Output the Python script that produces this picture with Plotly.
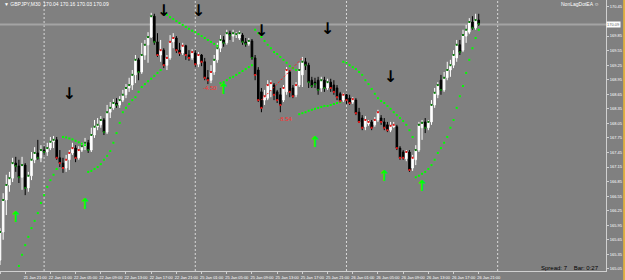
import plotly.graph_objects as go

# ---------------- data ----------------
opens = [165.23,165.81,166.47,166.78,166.92,167.23,167.17,166.94,167.19,166.72,
         166.97,167.30,167.44,167.34,167.50,167.46,167.54,167.67,167.71,167.34,
         167.23,167.13,167.30,167.44,167.54,167.34,167.50,167.58,167.65,167.50,
         167.81,167.98,168.02,168.12,167.87,168.28,168.37,168.47,168.43,168.53,
         168.64,168.78,168.84,169.05,169.36,169.11,169.46,169.67,169.83,170.26,
         169.73,169.46,169.56,169.25,169.40,169.73,169.81,169.56,169.50,169.65,
         169.46,169.40,169.50,169.27,169.46,169.32,168.99,168.94,169.11,169.36,
         169.60,169.77,169.71,169.91,169.85,169.87,169.81,169.87,169.73,169.69,
         169.75,169.40,169.15,168.70,168.53,168.57,168.74,168.84,168.70,168.64,
         168.53,168.70,169.11,168.78,168.64,168.84,169.05,169.32,169.25,168.94,
         168.90,168.94,168.78,168.94,168.78,168.90,168.84,168.78,168.66,168.53,
         168.64,168.57,168.49,168.53,168.28,168.16,167.98,168.04,168.08,168.02,
         168.12,168.16,168.08,168.02,167.91,167.98,167.98,167.54,167.46,167.32,
         167.46,167.13,167.30,167.50,167.96,168.08,167.96,168.08,168.43,168.64,
         168.94,168.74,168.99,169.15,169.25,169.40,169.67,169.56,169.85,169.93,
         170.14,170.02,170.18]
highs = [165.89,166.61,166.99,167.05,167.34,167.36,167.30,167.36,167.23,167.05,
         167.46,167.56,167.71,167.60,167.58,167.65,167.77,167.79,167.77,167.50,
         167.34,167.40,167.50,167.65,167.60,167.58,167.65,167.75,167.71,167.96,
         168.12,168.16,168.20,168.16,168.43,168.49,168.55,168.57,168.61,168.74,
         168.86,168.99,169.15,169.46,169.40,169.71,169.77,169.93,170.33,170.31,
         169.91,169.77,169.60,169.46,169.87,169.91,169.85,169.71,169.71,169.67,
         169.56,169.58,169.56,169.52,169.48,169.40,169.15,169.25,169.46,169.71,
         169.87,169.85,169.98,169.96,169.98,169.93,169.96,169.91,169.81,169.81,
         169.79,169.46,169.21,168.78,168.74,168.94,168.94,168.88,168.74,168.78,
         168.84,169.21,169.15,168.84,168.90,169.30,169.42,169.40,169.30,169.01,
         168.99,169.01,169.01,169.01,168.97,168.97,168.94,168.84,168.70,168.68,
         168.66,168.64,168.59,168.57,168.37,168.22,168.20,168.12,168.12,168.18,
         168.33,168.22,168.16,168.08,168.08,168.08,168.02,167.58,167.50,167.50,
         167.50,167.40,167.60,168.08,168.12,168.16,168.12,168.53,168.78,168.90,
         169.05,169.11,169.32,169.36,169.56,169.77,169.77,169.98,170.08,170.22,
         170.26,170.31,170.31]
lows = [165.13,165.65,166.16,166.64,166.84,167.05,166.82,166.68,166.57,166.64,
        166.88,167.23,167.30,167.25,167.40,167.38,167.50,167.54,167.30,167.15,
        167.03,167.05,167.09,167.40,167.25,167.30,167.46,167.50,167.44,167.46,
        167.75,167.91,167.96,167.81,167.83,168.16,168.33,168.37,168.37,168.49,
        168.57,168.70,168.74,168.88,168.94,169.07,169.36,169.30,169.81,169.67,
        169.42,169.32,169.19,169.15,169.36,169.60,169.50,169.44,169.46,169.36,
        169.34,169.36,169.21,169.21,169.23,168.94,168.86,168.88,169.05,169.30,
        169.52,169.63,169.67,169.77,169.73,169.81,169.77,169.67,169.63,169.65,
        169.36,168.94,168.49,168.28,168.43,168.53,168.59,168.53,168.47,168.28,
        168.49,168.64,168.59,168.57,168.59,168.80,168.80,169.15,168.78,168.78,
        168.78,168.64,168.70,168.70,168.74,168.70,168.64,168.53,168.47,168.49,
        168.45,168.43,168.45,168.22,168.06,167.91,167.91,168.00,167.91,167.98,
        168.08,168.02,167.91,167.87,167.87,167.96,167.50,167.30,167.30,167.27,
        167.05,167.07,167.19,167.46,167.71,167.85,167.91,168.02,168.37,168.57,
        168.64,168.70,168.94,169.01,169.19,169.32,169.46,169.52,169.71,169.89,
        169.98,169.98,170.06]
closes = [165.81,166.47,166.78,166.92,167.23,167.17,166.94,167.19,166.72,166.97,
          167.30,167.44,167.34,167.50,167.46,167.54,167.67,167.71,167.34,167.23,
          167.13,167.30,167.44,167.54,167.34,167.50,167.58,167.65,167.50,167.81,
          167.98,168.02,168.12,167.87,168.28,168.37,168.47,168.43,168.53,168.64,
          168.78,168.84,169.05,169.36,169.11,169.46,169.67,169.83,170.26,169.73,
          169.46,169.56,169.25,169.40,169.73,169.81,169.56,169.50,169.65,169.46,
          169.40,169.52,169.27,169.46,169.32,168.99,168.94,169.11,169.36,169.60,
          169.77,169.71,169.91,169.87,169.91,169.89,169.91,169.73,169.69,169.75,
          169.40,169.05,168.53,168.37,168.61,168.84,168.88,168.64,168.53,168.43,
          168.78,169.15,168.70,168.61,168.84,169.15,169.32,169.25,168.90,168.82,
          168.86,168.74,168.94,168.78,168.90,168.78,168.70,168.59,168.51,168.64,
          168.53,168.47,168.55,168.26,168.08,167.96,168.12,168.08,167.96,168.12,
          168.28,168.08,167.96,167.91,168.00,168.02,167.54,167.34,167.34,167.46,
          167.09,167.34,167.50,168.02,168.06,167.96,168.08,168.43,168.68,168.84,
          168.74,168.99,169.15,169.25,169.46,169.67,169.52,169.87,169.98,170.14,
          170.02,170.18,170.10]

# NonLagDot trend colour per bar (G = up, R = down)
trend = ("G" * 18 + "R" * 8 + "G" * 24 + "R" * 18 + "G" * 13 +
         "R" * 14 + "G" * 10 + "R" * 27 + "G" * 21)

# Parabolic-style green dots (bar index, price)
sar_bar = list(range(6, 19)) + list(range(20, 28)) + list(range(28, 52)) + \
          list(range(52, 70)) + list(range(70, 81)) + list(range(81, 95)) + \
          list(range(95, 109)) + list(range(109, 132)) + list(range(132, 153))
sar_val = [165.11,165.34,165.54,165.71,165.89,166.04,166.20,166.41,166.57,166.74,166.88,166.99,167.11,
           167.77,167.76,167.74,167.72,167.69,167.66,167.63,167.60,
           167.05,167.07,167.11,167.15,167.21,167.30,167.38,167.48,167.65,167.85,168.06,168.28,
           168.37,168.45,168.53,168.59,168.70,168.80,168.86,168.92,168.97,169.03,169.09,169.15,
           170.33,170.29,170.24,170.20,170.16,170.12,170.08,170.04,170.00,169.96,169.93,169.89,
           169.85,169.81,169.77,169.73,169.69,169.65,
           168.88,168.90,168.94,168.99,169.01,169.05,169.09,169.13,169.17,169.21,169.25,
           169.98,169.91,169.83,169.75,169.67,169.60,169.52,169.48,169.42,169.36,169.30,169.23,169.19,169.15,
           168.24,168.26,168.28,168.31,168.33,168.35,168.37,168.39,168.41,168.41,168.43,168.45,168.47,168.49,
           169.32,169.30,169.25,169.21,169.17,169.11,169.05,168.94,168.86,168.76,168.66,168.57,168.51,
           168.47,168.41,168.35,168.28,168.22,168.16,168.10,168.02,167.91,167.77,
           166.94,166.97,167.01,167.05,167.11,167.19,167.30,167.44,167.54,167.65,167.77,167.96,
           168.12,168.37,168.61,168.82,169.09,169.36,169.60,169.81,169.98]

sell_bar = [22, 52, 63, 83, 104, 124]
sell_val = [168.64, 170.34, 170.34, 169.93, 169.98, 168.99]
buy_bar = [5, 27, 71, 100, 122, 134]
buy_val = [166.10, 166.37, 168.74, 167.65, 166.94, 166.74]

profit_text = ["-4.50", "-8.54"]
profit_bar = [66.6, 90.5]
profit_val = [168.76, 168.12]

trade_bar = [83, 96]
trade_val = [168.53, 169.40]

tick_bars = list(range(0, 153, 8))
tick_text = ["21 Jan 2016", "21 Jan 21:00", "22 Jan 01:00", "22 Jan 05:00", "22 Jan 09:00",
             "22 Jan 13:00", "22 Jan 17:00", "22 Jan 21:00", "25 Jan 01:00", "25 Jan 05:00",
             "25 Jan 09:00", "25 Jan 13:00", "25 Jan 17:00", "25 Jan 21:00", "26 Jan 01:00",
             "26 Jan 05:00", "26 Jan 09:00", "26 Jan 13:00", "26 Jan 17:00", "26 Jan 21:00"]
separator_bars = [14, 62, 110, 158]
price_ticks = [165.05, 165.35, 165.65, 165.95, 166.25, 166.55, 166.85, 167.15, 167.45,
               167.75, 168.05, 168.35, 168.65, 168.95, 169.25, 169.55, 169.85, 170.45]
bid = 170.09

# ---------------- figure ----------------
n = len(closes)
bars = list(range(n))
BG = "#808080"
AX = "#d0d0d0"
FONT = "Liberation Sans"

fig = go.Figure()

fig.add_trace(go.Scatter(x=sar_bar, y=sar_val, mode="markers",
                         marker=dict(symbol="square", size=2, color="#00ff00", line=dict(width=0)),
                         hoverinfo="skip", showlegend=False))

fig.add_trace(go.Scatter(x=trade_bar, y=trade_val, mode="lines",
                         line=dict(color="#ff2020", width=1, dash="2px,2px"),
                         hoverinfo="skip", showlegend=False))

fig.add_trace(go.Candlestick(x=bars, open=opens, high=highs, low=lows, close=closes,
                             increasing=dict(line=dict(color="#ffffff", width=1), fillcolor="#ffffff"),
                             decreasing=dict(line=dict(color="#000000", width=1), fillcolor="#000000"),
                             whiskerwidth=0, showlegend=False, hoverinfo="skip"))

dot_col = ["#0a7a0a" if t == "G" else "#e01818" for t in trend]
fig.add_trace(go.Scatter(x=bars, y=closes, mode="markers",
                         marker=dict(symbol="square", size=2, color=dot_col, line=dict(width=0)),
                         hoverinfo="skip", showlegend=False))

fig.add_trace(go.Scatter(x=sell_bar, y=sell_val, mode="text", text=["↓"] * len(sell_bar),
                         textfont=dict(family="DejaVu Sans", size=16, color="#000000", weight="bold"),
                         hoverinfo="skip", showlegend=False))
fig.add_trace(go.Scatter(x=buy_bar, y=buy_val, mode="text", text=["↑"] * len(buy_bar),
                         textfont=dict(family="DejaVu Sans", size=15, color="#00ff00", weight="bold"),
                         hoverinfo="skip", showlegend=False))
fig.add_trace(go.Scatter(x=profit_bar, y=profit_val, mode="text", text=profit_text,
                         textfont=dict(family=FONT, size=6, color="#ff3030"),
                         hoverinfo="skip", showlegend=False))

shapes = []
for b in separator_bars:
    shapes.append(dict(type="line", xref="x", yref="paper", x0=b, x1=b, y0=0, y1=1,
                       line=dict(color="#d8d8d8", width=1, dash="2px,2px"), layer="below"))
shapes.append(dict(type="line", xref="paper", yref="y", x0=0, x1=1, y0=bid, y1=bid,
                   line=dict(color="#a4a4a4", width=2), layer="below"))
shapes.append(dict(type="rect", xref="paper", yref="paper", x0=1.0283, x1=1.05, y0=-0.05, y1=1.01,
                   fillcolor="#e0b040", line=dict(width=0)))

annotations = [
    dict(xref="paper", yref="paper", x=0.004, y=0.985, xanchor="left", yanchor="middle",
         text="▼ GBPJPY,M30  170.04 170.16 170.03 170.09", showarrow=False,
         font=dict(family=FONT, size=5, color="#ffffff")),
    dict(xref="paper", yref="paper", x=0.991, y=0.985, xanchor="right", yanchor="middle",
         text="NonLagDotEA ☺", showarrow=False, font=dict(family=FONT, size=5, color="#ffffff")),
    dict(xref="paper", yref="paper", x=0.991, y=0.012, xanchor="right", yanchor="middle",
         text="Spread: 7    Bar: 0:27", showarrow=False, font=dict(family=FONT, size=6, color="#000000")),
    dict(xref="paper", yref="y", x=1.0, y=bid, xanchor="left", yanchor="middle",
         text="170.09", showarrow=False, bgcolor="#ffffff", borderpad=0,
         font=dict(family=FONT, size=4, color="#606060")),
]

fig.update_layout(
    width=625, height=280,
    margin=dict(l=0, r=19, t=0, b=9, pad=0),
    paper_bgcolor=BG, plot_bgcolor=BG,
    shapes=shapes, annotations=annotations,
    showlegend=False,
    xaxis=dict(range=[0, 192.4], rangeslider=dict(visible=False), showgrid=False, zeroline=False,
               showline=True, linecolor=AX, linewidth=1,
               tickvals=tick_bars, ticktext=tick_text, ticks="outside", ticklen=2, tickcolor=AX,
               tickangle=0, ticklabelshift=10, ticklabelstandoff=0,
               tickfont=dict(family=FONT, size=4, color="#ffffff"), fixedrange=True),
    yaxis=dict(range=[165.006, 170.594], side="right", showgrid=False, zeroline=False,
               showline=True, linecolor=AX, linewidth=1,
               tickvals=price_ticks, ticktext=[f"{v:.2f}" for v in price_ticks],
               ticks="outside", ticklen=2, tickcolor=AX,
               tickfont=dict(family=FONT, size=4, color="#ffffff"), fixedrange=True),
)

fig.write_html("out.html")
